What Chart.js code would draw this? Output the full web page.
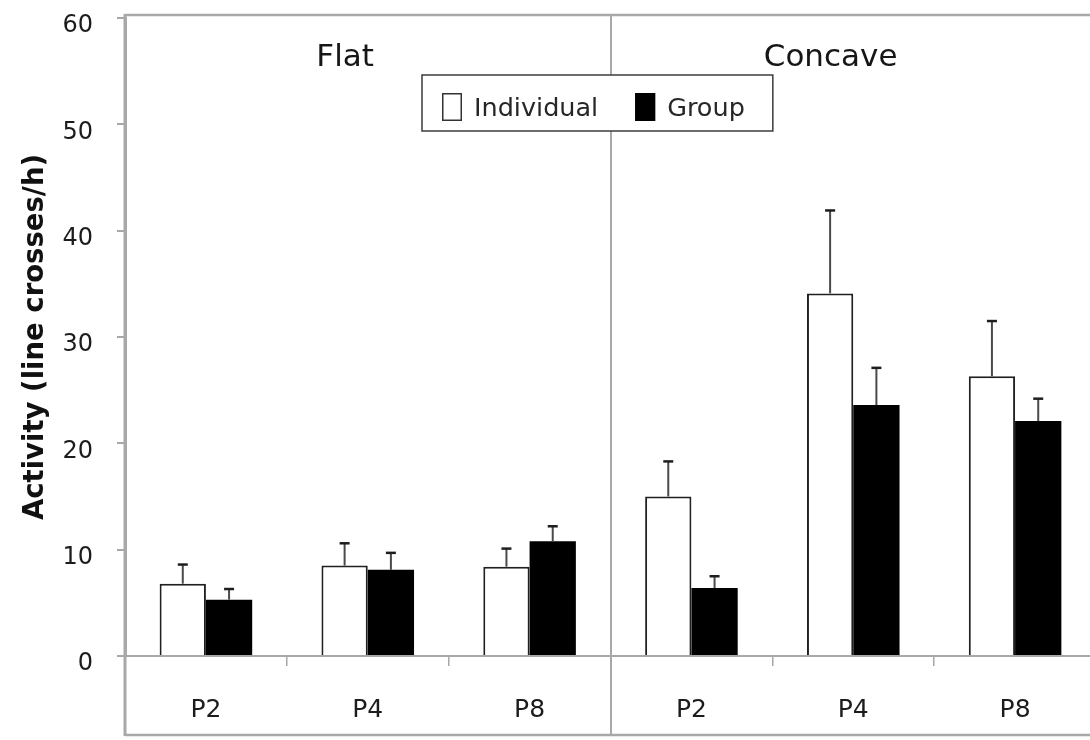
<!DOCTYPE html>
<html>
<head>
<meta charset="utf-8">
<script src="https://cdn.jsdelivr.net/npm/chart.js@4.4.1/dist/chart.umd.min.js"></script>
<style>
  html, body { margin: 0; padding: 0; overflow: hidden; background: #fff; }
  canvas { display: block; }
</style>
</head>
<body>
<canvas id="activity" width="1096" height="740" style="width:1096px;height:740px"></canvas>
<script>
// Mean activity per age group, two rearing conditions, two panels (3 ages each)
const categories = ['P2', 'P4', 'P8', 'P2', 'P4', 'P8'];
const panels = ['Flat', 'Concave'];
const individual = [6.8, 8.5, 8.4, 15.0, 34.1, 26.3];
const individualErr = [1.8, 2.1, 1.7, 3.3, 7.8, 5.2];
const group = [5.3, 8.1, 10.8, 6.4, 23.6, 22.1];
const groupErr = [1.0, 1.6, 1.4, 1.1, 3.5, 2.1];
const yTicks = [0, 10, 20, 30, 40, 50, 60];

const FAMILY = "'DejaVu Sans', sans-serif";
const AXIS_GRAY = '#a8a8a8';

// Upward-only error bars with a short cap
const errorBars = {
  id: 'errorBars',
  afterDatasetsDraw(chart) {
    const { ctx, scales: { y } } = chart;
    ctx.save();
    chart.data.datasets.forEach((ds, di) => {
      const meta = chart.getDatasetMeta(di);
      meta.data.forEach((bar, i) => {
        const top = y.getPixelForValue(ds.data[i] + ds.errors[i]);
        ctx.strokeStyle = '#4a4a4a';
        ctx.lineWidth = 2;
        ctx.beginPath();
        ctx.moveTo(bar.x, bar.y);
        ctx.lineTo(bar.x, top);
        ctx.stroke();
        ctx.strokeStyle = '#1e1e1e';
        ctx.lineWidth = 2.5;
        ctx.beginPath();
        ctx.moveTo(bar.x - 5, top);
        ctx.lineTo(bar.x + 5, top);
        ctx.stroke();
      });
    });
    ctx.restore();
  }
};

// Plot frame, panel divider, panel titles and the boxed legend
const panelFrame = {
  id: 'panelFrame',
  afterDraw(chart) {
    const { ctx, chartArea: a, scales: { x } } = chart;
    const W = chart.width, H = chart.height;
    const frameTop = a.top - 3;
    const frameBottom = H - 5;
    const step = x.getPixelForValue(1) - x.getPixelForValue(0);
    ctx.save();

    ctx.strokeStyle = AXIS_GRAY;
    ctx.lineWidth = 2.5;
    ctx.beginPath();
    ctx.moveTo(a.left, frameTop); ctx.lineTo(W, frameTop);
    ctx.moveTo(a.left, frameBottom); ctx.lineTo(W, frameBottom);
    ctx.stroke();

    ctx.lineWidth = 3;
    ctx.beginPath();
    ctx.moveTo(a.left, frameTop - 1); ctx.lineTo(a.left, frameBottom + 1);
    ctx.stroke();

    // divider between the two panels
    ctx.lineWidth = 2;
    for (let p = 1; p < panels.length; p++) {
      const sx = Math.round(x.getPixelForValue(p * 3) - step / 2);
      ctx.beginPath();
      ctx.moveTo(sx, frameTop); ctx.lineTo(sx, frameBottom);
      ctx.stroke();
    }

    // panel titles
    ctx.fillStyle = '#161616';
    ctx.font = `31px ${FAMILY}`;
    ctx.textAlign = 'center';
    ctx.textBaseline = 'alphabetic';
    panels.forEach((name, p) => {
      const cx = (x.getPixelForValue(p * 3) + x.getPixelForValue(p * 3 + 2)) / 2 - 0.14 * step;
      ctx.fillText(name, cx, a.top + 48);
    });

    // legend
    ctx.font = `25.5px ${FAMILY}`;
    ctx.textAlign = 'left';
    const items = chart.data.datasets.map(ds => ({
      label: ds.label, fill: ds.backgroundColor, stroke: ds.legendStroke,
      w: ctx.measureText(ds.label).width
    }));
    const padL = 20, padR = 28, sw = 20, swGap = 12, itemGap = 37;
    let boxW = padL + padR;
    items.forEach((it, i) => { boxW += sw + swGap + it.w + (i ? itemGap : 0); });
    const boxL = 422, boxT = a.top + 57, boxH = 56;
    ctx.fillStyle = '#fff';
    ctx.fillRect(boxL, boxT, boxW, boxH);
    ctx.strokeStyle = '#3c3c3c';
    ctx.lineWidth = 1.5;
    ctx.strokeRect(boxL, boxT, boxW, boxH);
    let cx = boxL + padL;
    items.forEach((it, i) => {
      if (i) cx += itemGap;
      ctx.fillStyle = it.fill;
      ctx.fillRect(cx, boxT + 18, sw, 28);
      ctx.strokeStyle = it.stroke;
      ctx.lineWidth = 1.5;
      ctx.strokeRect(cx + 0.75, boxT + 18.75, sw - 1.5, 26.5);
      cx += sw + swGap;
      ctx.fillStyle = '#262626';
      ctx.fillText(it.label, cx, boxT + 41);
      cx += it.w;
    });
    ctx.restore();
  }
};

new Chart(document.getElementById('activity'), {
  type: 'bar',
  data: {
    labels: categories,
    datasets: [
      {
        label: 'Individual', data: individual, errors: individualErr,
        backgroundColor: '#ffffff', borderColor: '#202020', borderWidth: 2,
        legendStroke: '#333333'
      },
      {
        label: 'Group', data: group, errors: groupErr,
        backgroundColor: '#000000', borderColor: '#000000', borderWidth: 0,
        legendStroke: '#000000'
      }
    ]
  },
  options: {
    responsive: false,
    animation: false,
    devicePixelRatio: 1,
    layout: { padding: { top: 18, left: 0, right: 0, bottom: 0 } },
    datasets: { bar: { categoryPercentage: 0.572, barPercentage: 1 } },
    plugins: { legend: { display: false }, tooltip: { enabled: false } },
    scales: {
      x: {
        grid: { offset: true, drawOnChartArea: false, drawTicks: true, tickLength: 10, color: AXIS_GRAY, lineWidth: 1.5 },
        border: { color: AXIS_GRAY, width: 2 },
        ticks: { color: '#1c1c1c', font: { family: FAMILY, size: 25 }, padding: 29, maxRotation: 0, autoSkip: false },
        afterFit(s) { s.height = 84; s.paddingLeft = 0; s.paddingRight = 0; }
      },
      y: {
        min: 0, max: 60,
        afterBuildTicks(s) { s.ticks = yTicks.map(v => ({ value: v })); },
        grid: { drawOnChartArea: false, drawTicks: true, tickLength: 8, color: AXIS_GRAY, lineWidth: 2 },
        border: { color: AXIS_GRAY, width: 3 },
        ticks: { color: '#1c1c1c', font: { family: FAMILY, size: 24 }, padding: 24, labelOffset: 8 },
        title: {
          display: true, text: 'Activity (line crosses/h)', color: '#111',
          font: { family: FAMILY, size: 27.5, weight: 'bold' }, padding: { top: 19, bottom: 0 }
        },
        afterFit(s) { s.width = 125; s.paddingTop = 0; s.paddingBottom = 0; }
      }
    }
  },
  plugins: [errorBars, panelFrame]
});
</script>
</body>
</html>
